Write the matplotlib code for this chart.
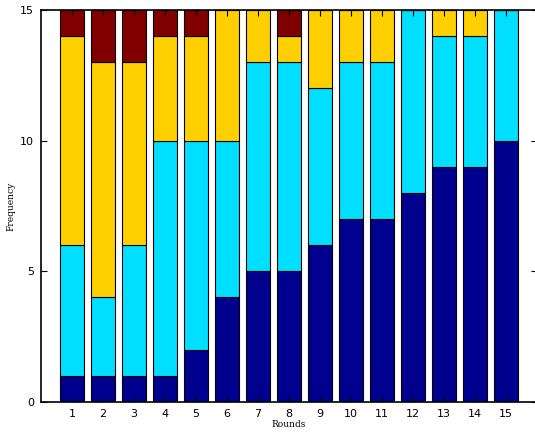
import matplotlib.pyplot as plt
import numpy as np

rounds = list(range(1, 16))
blue = [1, 1, 1, 1, 2, 4, 5, 5, 6, 7, 7, 8, 9, 9, 10]
cyan = [5, 3, 5, 9, 8, 6, 8, 8, 6, 6, 6, 7, 5, 5, 5]
yellow = [8, 9, 7, 4, 4, 5, 2, 1, 3, 2, 2, 0, 1, 1, 0]
red = [1, 2, 2, 1, 1, 0, 0, 1, 0, 0, 0, 0, 0, 0, 0]

colors = ['#00008F', '#00DFFF', '#FFCF00', '#800000']

fig = plt.figure(figsize=(5.35, 4.37), dpi=100)
ax = fig.add_axes([41 / 535, 35 / 437, 496 / 535, 392 / 437])

bottom = np.zeros(len(rounds))
for series, c in zip([blue, cyan, yellow, red], colors):
    ax.bar(rounds, series, width=0.8, bottom=bottom, color=c,
           edgecolor='black', linewidth=0.8)
    bottom += np.array(series)

ax.set_xlim(0, 16)
ax.set_ylim(0, 15)
ax.set_xticks(rounds)
ax.set_yticks([0, 5, 10, 15])
ax.tick_params(direction='in', top=True, right=True, labelsize=8, length=4,
               pad=5)
for s in ax.spines.values():
    s.set_linewidth(1.2)
# the right edge falls just past the figure border
ax.spines['right'].set_visible(False)

ax.set_xlabel('Rounds', family='DejaVu Serif', fontsize=6.5, labelpad=1)
ax.set_ylabel('Frequency', family='DejaVu Serif', fontsize=6.5, labelpad=3)

fig.savefig('out.png', dpi=100)
